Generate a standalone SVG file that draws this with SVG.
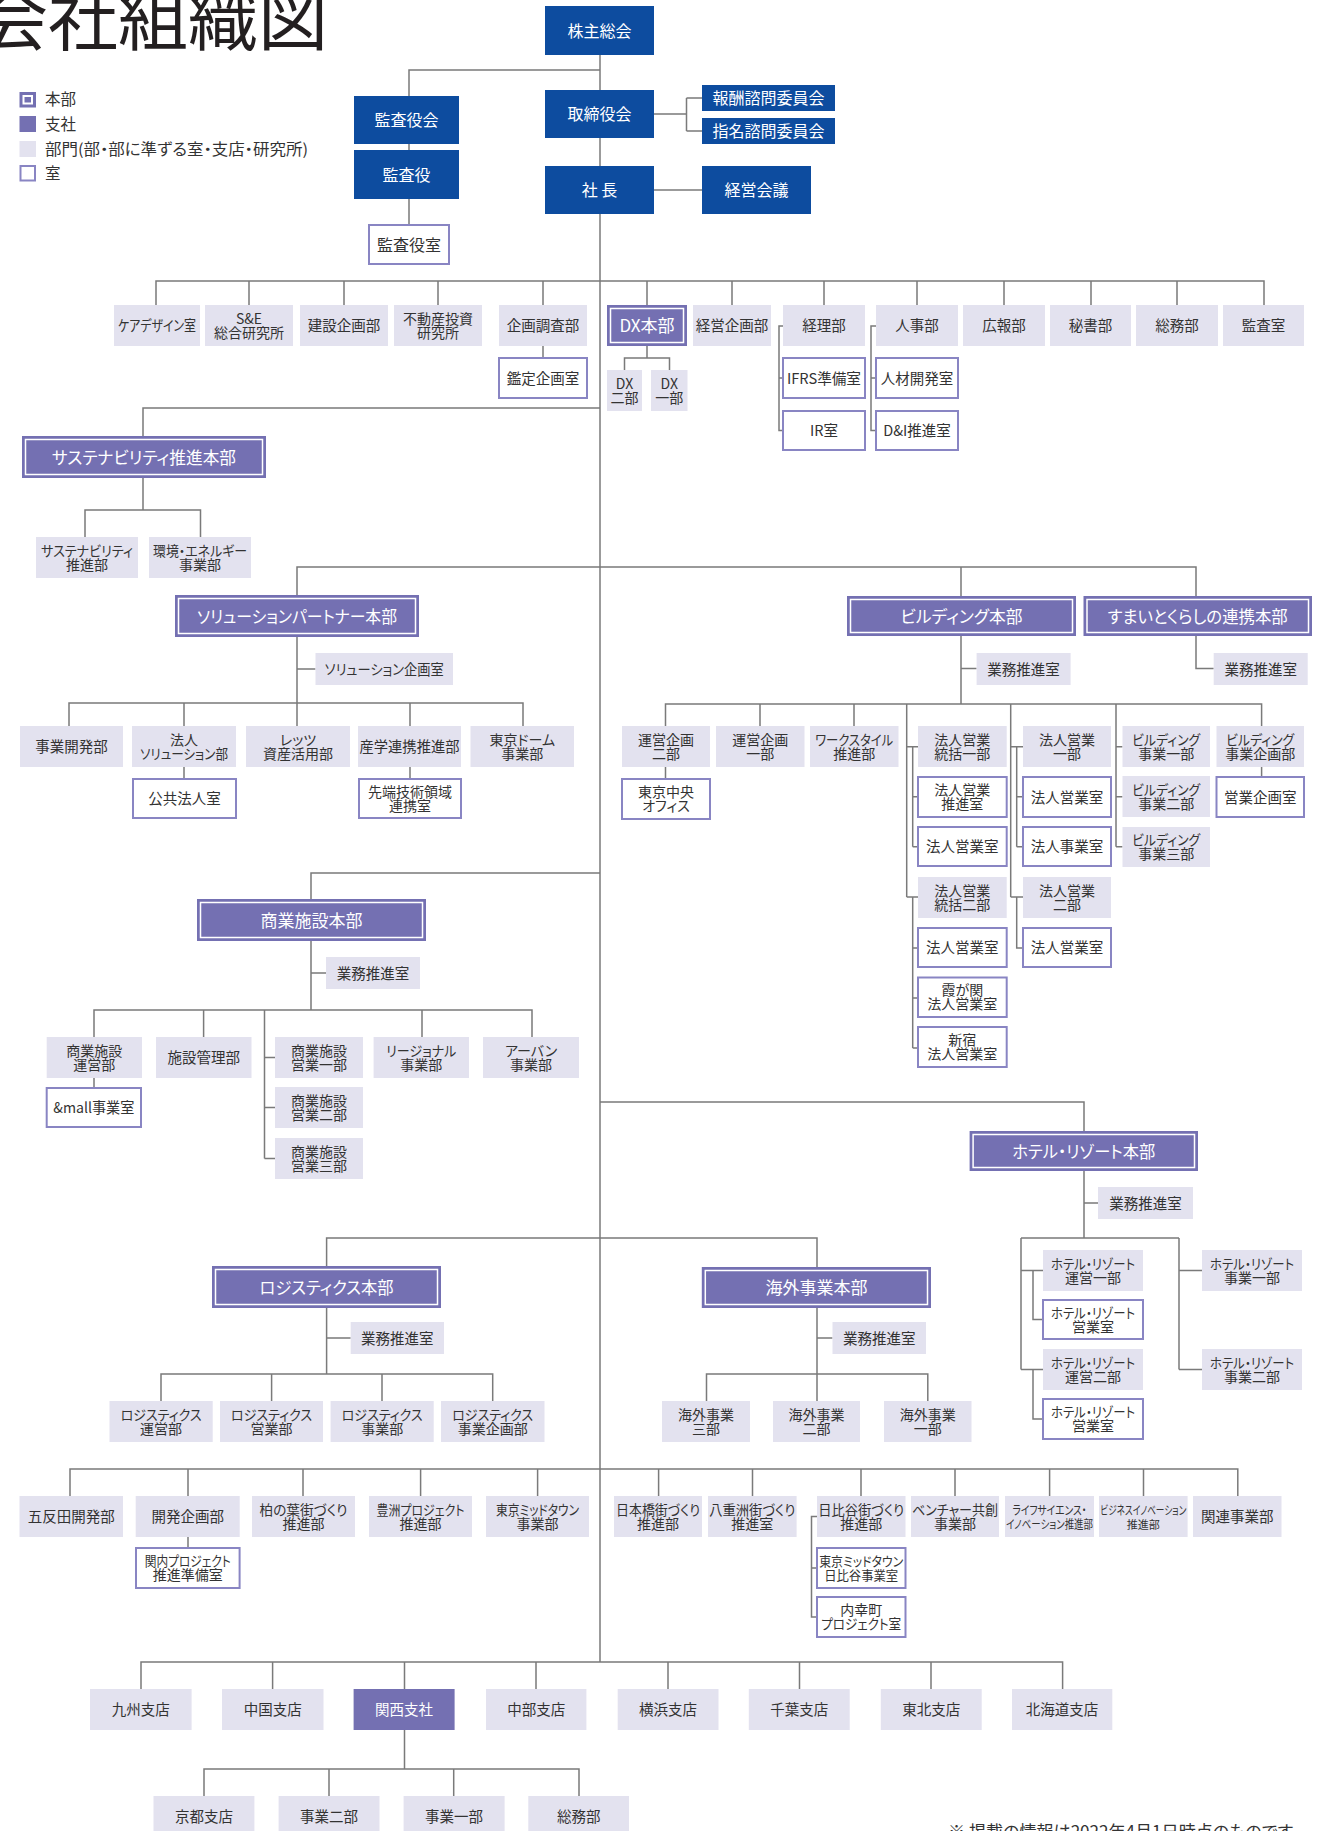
<svg xmlns="http://www.w3.org/2000/svg" width="1329" height="1831" viewBox="0 0 1329 1831">
<style>
text{font-family:"Noto Sans CJK JP","Noto Sans",sans-serif;font-feature-settings:"palt";}
.c{text-anchor:middle;fill:#333;font-size:14.5px}
.s{font-size:14px}
.w{fill:#fff}
.b16{font-size:16px}
.h{font-size:17px}
.ln{stroke:#7a7a7a;stroke-width:1.5;fill:none}
.blue{fill:#0d4c9f}
.hq{fill:#7470b2}
.hqi{fill:none;stroke:#fff;stroke-width:1.5}
.dep{fill:#e3e2ef}
.room{fill:#fff;stroke:#8985c3;stroke-width:2}
.lg{fill:#333;font-size:15.5px}
</style>
<rect width="1329" height="1831" fill="#fff"/>

<g id="title"><text x="-22" y="45" style="font-size:70px;fill:#231f20">会社組織図</text></g>

<g id="legend">
<rect x="19.5" y="92" width="16.5" height="15.5" class="hq"/><rect x="23.5" y="96" width="8.5" height="7.5" fill="none" stroke="#fff" stroke-width="2"/>
<text x="45" y="105.4" class="lg">本部</text>
<rect x="19.5" y="116" width="16.5" height="16" class="hq"/>
<text x="45" y="129.9" class="lg">支社</text>
<rect x="19.5" y="141" width="16.5" height="16" class="dep"/>
<text x="45" y="154.9" class="lg" textLength="263" lengthAdjust="spacingAndGlyphs">部門(部・部に準ずる室・支店・研究所)</text>
<rect x="20.5" y="166" width="14.5" height="14.5" class="room"/>
<text x="45" y="178.9" class="lg">室</text>
</g>

<g id="connectors" class="ln">
<path d="M600,55V1662"/>
<path d="M600,70H409V96M409,144V150M409,199V225"/>
<path d="M654,114H686.5M686.5,98V131M686.5,98H702M686.5,131H702"/>
<path d="M654,190H702"/>
<path d="M156,305V281H1264V305M249,281V305M344,281V305M438,281V305M543,281V305M647,281V305M732,281V305M824,281V305M917,281V305M1004,281V305M1091,281V305M1177,281V305"/>
<path d="M543,346V358"/>
<path d="M647,346V358M624.5,370V358H669.5V370"/>
<path d="M783,326H779V430.5H783M779,378H783"/>
<path d="M876,326H871V430.5H876M871,378H876"/>
<path d="M600,408H143V436M143,478V510M85,537V510H200.5V537"/>
<path d="M297,595V567H1196V596M961,567V596"/>
<path d="M297,637V703M297,669H315.5M69,726V703H523V726M184,703V726M297,703V726M410,703V726"/>
<path d="M184,767V779M410,767V779"/>
<path d="M961,636V704M961,668.5H976.6M1196,636V668.5H1213.7"/>
<path d="M665.5,726V704H1261.6V726M760,704V726M854,704V726"/>
<path d="M665.5,767V779M1261.6,767V777"/>
<path d="M906.7,704V897M906.7,746.7H918M906.7,897H918M912.7,746.7V846.7M912.7,796.7H918M912.7,846.7H918M912.7,897V1048M912.7,948H918M912.7,998H918M912.7,1048H918"/>
<path d="M1010.7,704V897M1010.7,746.7H1023M1010.7,897H1023M1016.7,746.7V846.7M1016.7,796.7H1023M1016.7,846.7H1023M1016.7,897V948H1023"/>
<path d="M1116,704V846.7M1116,746.7H1122.5M1116,796.7H1122.5M1116,846.7H1122.5"/>
<path d="M600,873H311V899M311,941V1010M311,973H326M94,1037V1010H532V1037M203.6,1010V1037M422,1010V1037"/>
<path d="M94,1078V1088M264.5,1010V1158.5M264.5,1057.5H275M264.5,1107.5H275M264.5,1158.5H275"/>
<path d="M600,1102H1084V1131M1084,1171V1238M1084,1203H1098M1021,1238H1179"/>
<path d="M1021,1238V1369.5M1021,1270.5H1043M1021,1369.5H1043M1033,1270.5V1319.5H1043M1033,1369.5V1419H1043"/>
<path d="M1179,1238V1369.5M1179,1270.5H1202M1179,1369.5H1202"/>
<path d="M326.6,1266V1238H817V1267"/>
<path d="M326.6,1308V1374M326.6,1338H350.7M161,1401V1374H492.7V1401M271.6,1374V1401M382,1374V1401"/>
<path d="M817,1308V1401M817,1338H832.5M706.5,1401V1374H927.8V1401"/>
<path d="M70,1496V1469H1237.8V1496M188,1469V1496M303,1469V1496M420.6,1469V1496M537.6,1469V1496M658.6,1469V1496M752.5,1469V1496M861,1469V1496M955,1469V1496M1049.6,1469V1496M1143.5,1469V1496"/>
<path d="M188,1537V1548M817,1516.5H811.5V1617H817M811.5,1568H817"/>
<path d="M141,1689V1662H1062.6V1689M272.6,1662V1689M404.5,1662V1689M536,1662V1689M668,1662V1689M799.5,1662V1689M931,1662V1689"/>
<path d="M404.5,1730V1769M204,1796V1769H579V1796M329,1769V1796M453.7,1769V1796"/>
</g>

<g id="n-kabunushi"><rect x="545" y="6" width="109" height="49" class="blue"/><text x="599.5" y="36.6" class="c w b16">株主総会</text></g>
<g id="n-kansayakukai"><rect x="354" y="96" width="105" height="48" class="blue"/><text x="406.5" y="126.1" class="c w b16">監査役会</text></g>
<g id="n-kansayaku"><rect x="354" y="150" width="105" height="49" class="blue"/><text x="406.5" y="180.6" class="c w b16">監査役</text></g>
<g id="n-kansayakushitsu"><rect x="369" y="225" width="80" height="39" class="room"/><text x="409" y="250.6" class="c b16">監査役室</text></g>
<g id="n-torishimariyakukai"><rect x="545" y="90" width="109" height="48" class="blue"/><text x="599.5" y="120.1" class="c w b16">取締役会</text></g>
<g id="n-shacho"><rect x="545" y="166" width="109" height="48" class="blue"/><text x="599.5" y="196.1" class="c w b16">社 長</text></g>
<g id="n-hoshu"><rect x="702" y="85" width="133" height="26" class="blue"/><text x="768.5" y="104.1" class="c w b16">報酬諮問委員会</text></g>
<g id="n-shimei"><rect x="702" y="118" width="133" height="26" class="blue"/><text x="768.5" y="137.1" class="c w b16">指名諮問委員会</text></g>
<g id="n-keieikaigi"><rect x="702" y="166" width="109" height="48" class="blue"/><text x="756.5" y="196.1" class="c w b16">経営会議</text></g>

<g id="n-caredesign"><rect x="114" y="305" width="86" height="41" class="dep"/><text x="157" y="331" class="c" textLength="78" lengthAdjust="spacingAndGlyphs">ケアデザイン室</text></g>
<g id="n-se"><rect x="205" y="305" width="88" height="41" class="dep"/><text x="249" y="323.8" class="c s">S&amp;E</text><text x="249" y="337.8" class="c s">総合研究所</text></g>
<g id="n-kensetsu"><rect x="300" y="305" width="88" height="41" class="dep"/><text x="344" y="331" class="c">建設企画部</text></g>
<g id="n-fudosan"><rect x="394" y="305" width="88" height="41" class="dep"/><text x="438" y="323.8" class="c s">不動産投資</text><text x="438" y="337.8" class="c s">研究所</text></g>
<g id="n-kikakuchosa"><rect x="499" y="305" width="88" height="41" class="dep"/><text x="543" y="331" class="c">企画調査部</text></g>
<g id="n-dx"><rect x="607" y="305" width="80" height="41" class="hq"/><rect x="610.5" y="308.5" width="73" height="34" class="hqi"/><text x="647" y="332" class="c w h">DX本部</text></g>
<g id="n-keieikikaku"><rect x="693" y="305" width="78" height="41" class="dep"/><text x="732" y="331" class="c">経営企画部</text></g>
<g id="n-keiri"><rect x="783" y="305" width="82" height="41" class="dep"/><text x="824" y="331" class="c">経理部</text></g>
<g id="n-jinji"><rect x="876" y="305" width="82" height="41" class="dep"/><text x="917" y="331" class="c">人事部</text></g>
<g id="n-koho"><rect x="963" y="305" width="82" height="41" class="dep"/><text x="1004" y="331" class="c">広報部</text></g>
<g id="n-hisho"><rect x="1050" y="305" width="81" height="41" class="dep"/><text x="1090.5" y="331" class="c">秘書部</text></g>
<g id="n-somu"><rect x="1136" y="305" width="82" height="41" class="dep"/><text x="1177" y="331" class="c">総務部</text></g>
<g id="n-kansashitsu"><rect x="1223" y="305" width="81" height="41" class="dep"/><text x="1263.5" y="331" class="c">監査室</text></g>

<g id="n-kantei"><rect x="499" y="358" width="88" height="40" class="room"/><text x="543" y="383.5" class="c">鑑定企画室</text></g>
<g id="n-dx2"><rect x="607" y="370" width="35" height="41" class="dep"/><text x="624.5" y="388.8" class="c s">DX</text><text x="624.5" y="402.8" class="c s">二部</text></g>
<g id="n-dx1"><rect x="651" y="370" width="36.5" height="41" class="dep"/><text x="669.3" y="388.8" class="c s">DX</text><text x="669.3" y="402.8" class="c s">一部</text></g>
<g id="n-ifrs"><rect x="783" y="358" width="82" height="40" class="room"/><text x="824" y="383.5" class="c" textLength="74" lengthAdjust="spacingAndGlyphs">IFRS準備室</text></g>
<g id="n-ir"><rect x="783" y="411" width="82" height="39" class="room"/><text x="824" y="436" class="c">IR室</text></g>
<g id="n-jinzai"><rect x="876" y="358" width="82" height="40" class="room"/><text x="917" y="383.5" class="c">人材開発室</text></g>
<g id="n-di"><rect x="876" y="411" width="82" height="39" class="room"/><text x="917" y="436" class="c">D&amp;I推進室</text></g>

<g id="n-sustainability-hq"><rect x="22" y="436" width="244" height="42" class="hq"/><rect x="25.5" y="439.5" width="237" height="35" class="hqi"/><text x="144" y="463.5" class="c w h" textLength="184" lengthAdjust="spacingAndGlyphs">サステナビリティ推進本部</text></g>
<g id="n-sustainability"><rect x="36" y="537" width="102" height="41" class="dep"/><text x="87" y="555.8" class="c s" textLength="92" lengthAdjust="spacingAndGlyphs">サステナビリティ</text><text x="87" y="569.8" class="c s">推進部</text></g>
<g id="n-energy"><rect x="149" y="537" width="102" height="41" class="dep"/><text x="200" y="555.8" class="c s" textLength="94" lengthAdjust="spacingAndGlyphs">環境・エネルギー</text><text x="200" y="569.8" class="c s">事業部</text></g>

<g id="n-solution-hq"><rect x="175" y="595" width="244" height="42" class="hq"/><rect x="178.5" y="598.5" width="237" height="35" class="hqi"/><text x="297" y="622.5" class="c w h" textLength="200" lengthAdjust="spacingAndGlyphs">ソリューションパートナー本部</text></g>
<g id="n-solution-kikaku"><rect x="315.5" y="653" width="137.5" height="32" class="dep"/><text x="384.2" y="674.5" class="c" textLength="119" lengthAdjust="spacingAndGlyphs">ソリューション企画室</text></g>
<g id="n-jigyokaihatsu"><rect x="20" y="726" width="103" height="41" class="dep"/><text x="71.5" y="752" class="c">事業開発部</text></g>
<g id="n-hojinsol"><rect x="132" y="726" width="104" height="41" class="dep"/><text x="184" y="744.8" class="c s">法人</text><text x="184" y="758.8" class="c s" textLength="88" lengthAdjust="spacingAndGlyphs">ソリューション部</text></g>
<g id="n-lets"><rect x="246" y="726" width="104" height="41" class="dep"/><text x="298" y="744.8" class="c s">レッツ</text><text x="298" y="758.8" class="c s">資産活用部</text></g>
<g id="n-sangaku"><rect x="358" y="726" width="103" height="41" class="dep"/><text x="409.5" y="752" class="c" textLength="100" lengthAdjust="spacingAndGlyphs">産学連携推進部</text></g>
<g id="n-dome"><rect x="470.5" y="726" width="103.5" height="41" class="dep"/><text x="522.2" y="744.8" class="c s">東京ドーム</text><text x="522.2" y="758.8" class="c s">事業部</text></g>
<g id="n-kokyo"><rect x="133" y="779" width="103" height="39" class="room"/><text x="184.5" y="804" class="c">公共法人室</text></g>
<g id="n-sentan"><rect x="359" y="779" width="102" height="39" class="room"/><text x="410" y="796.8" class="c s">先端技術領域</text><text x="410" y="810.8" class="c s">連携室</text></g>

<g id="n-building-hq"><rect x="847" y="596" width="229" height="40" class="hq"/><rect x="850.5" y="599.5" width="222" height="33" class="hqi"/><text x="961.5" y="622.5" class="c w h" textLength="122" lengthAdjust="spacingAndGlyphs">ビルディング本部</text></g>
<g id="n-sumai-hq"><rect x="1083.5" y="596" width="228.5" height="40" class="hq"/><rect x="1087" y="599.5" width="221.5" height="33" class="hqi"/><text x="1197.7" y="622.5" class="c w h" textLength="180" lengthAdjust="spacingAndGlyphs">すまいとくらしの連携本部</text></g>
<g id="n-building-gyomu"><rect x="976.6" y="653" width="94" height="32" class="dep"/><text x="1023.6" y="674.5" class="c">業務推進室</text></g>
<g id="n-sumai-gyomu"><rect x="1213.7" y="653" width="94" height="32" class="dep"/><text x="1260.7" y="674.5" class="c">業務推進室</text></g>
<g id="n-unei2"><rect x="622" y="726" width="88" height="41" class="dep"/><text x="666" y="744.8" class="c s">運営企画</text><text x="666" y="758.8" class="c s">二部</text></g>
<g id="n-unei1"><rect x="716" y="726" width="88.5" height="41" class="dep"/><text x="760.2" y="744.8" class="c s">運営企画</text><text x="760.2" y="758.8" class="c s">一部</text></g>
<g id="n-workstyle"><rect x="810" y="726" width="88.5" height="41" class="dep"/><text x="854.2" y="744.8" class="c s" textLength="78" lengthAdjust="spacingAndGlyphs">ワークスタイル</text><text x="854.2" y="758.8" class="c s">推進部</text></g>
<g id="n-tokatsu1"><rect x="918" y="726" width="88.7" height="41" class="dep"/><text x="962.3" y="744.8" class="c s">法人営業</text><text x="962.3" y="758.8" class="c s">統括一部</text></g>
<g id="n-hojin1"><rect x="1023" y="726" width="88" height="41" class="dep"/><text x="1067" y="744.8" class="c s">法人営業</text><text x="1067" y="758.8" class="c s">一部</text></g>
<g id="n-bldg1"><rect x="1122.5" y="726" width="87.5" height="41" class="dep"/><text x="1166.2" y="744.8" class="c s" textLength="68" lengthAdjust="spacingAndGlyphs">ビルディング</text><text x="1166.2" y="758.8" class="c s">事業一部</text></g>
<g id="n-bldgkikaku"><rect x="1216.5" y="726" width="87.5" height="41" class="dep"/><text x="1260.2" y="744.8" class="c s" textLength="68" lengthAdjust="spacingAndGlyphs">ビルディング</text><text x="1260.2" y="758.8" class="c s">事業企画部</text></g>
<g id="n-tokyochuo"><rect x="622" y="779" width="88" height="40" class="room"/><text x="666" y="797.3" class="c s">東京中央</text><text x="666" y="811.3" class="c s">オフィス</text></g>
<g id="n-eigyokikaku"><rect x="1216.5" y="777" width="87.5" height="40" class="room"/><text x="1260.2" y="802.5" class="c">営業企画室</text></g>
<g id="n-suishin"><rect x="918" y="777" width="88.7" height="40" class="room"/><text x="962.3" y="795.3" class="c s">法人営業</text><text x="962.3" y="809.3" class="c s">推進室</text></g>
<g id="n-hojineigyo-a"><rect x="918" y="827" width="88.7" height="39" class="room"/><text x="962.3" y="852" class="c">法人営業室</text></g>
<g id="n-tokatsu2"><rect x="918" y="877" width="88.7" height="41" class="dep"/><text x="962.3" y="895.8" class="c s">法人営業</text><text x="962.3" y="909.8" class="c s">統括二部</text></g>
<g id="n-hojineigyo-b"><rect x="918" y="928" width="88.7" height="39" class="room"/><text x="962.3" y="953" class="c">法人営業室</text></g>
<g id="n-kasumigaseki"><rect x="918" y="977.5" width="88.7" height="39.5" class="room"/><text x="962.3" y="995.3" class="c s">霞が関</text><text x="962.3" y="1009.3" class="c s">法人営業室</text></g>
<g id="n-shinjuku"><rect x="918" y="1027" width="88.7" height="40" class="room"/><text x="962.3" y="1045.3" class="c s">新宿</text><text x="962.3" y="1059.3" class="c s">法人営業室</text></g>
<g id="n-hojineigyo-c"><rect x="1023" y="777" width="88" height="40" class="room"/><text x="1067" y="802.5" class="c">法人営業室</text></g>
<g id="n-hojinjigyo"><rect x="1023" y="827" width="88" height="39" class="room"/><text x="1067" y="852" class="c">法人事業室</text></g>
<g id="n-hojin2"><rect x="1023" y="877" width="88" height="41" class="dep"/><text x="1067" y="895.8" class="c s">法人営業</text><text x="1067" y="909.8" class="c s">二部</text></g>
<g id="n-hojineigyo-d"><rect x="1023" y="928" width="88" height="39" class="room"/><text x="1067" y="953" class="c">法人営業室</text></g>
<g id="n-bldg2"><rect x="1122.5" y="776" width="87.5" height="41" class="dep"/><text x="1166.2" y="794.8" class="c s" textLength="68" lengthAdjust="spacingAndGlyphs">ビルディング</text><text x="1166.2" y="808.8" class="c s">事業二部</text></g>
<g id="n-bldg3"><rect x="1122.5" y="827" width="87.5" height="40" class="dep"/><text x="1166.2" y="845.3" class="c s" textLength="68" lengthAdjust="spacingAndGlyphs">ビルディング</text><text x="1166.2" y="859.3" class="c s">事業三部</text></g>

<g id="n-shogyo-hq"><rect x="197" y="899" width="229" height="42" class="hq"/><rect x="200.5" y="902.5" width="222" height="35" class="hqi"/><text x="311.5" y="926.5" class="c w h">商業施設本部</text></g>
<g id="n-shogyo-gyomu"><rect x="326" y="957" width="94" height="32" class="dep"/><text x="373" y="978.5" class="c">業務推進室</text></g>
<g id="n-shogyo-unei"><rect x="46.7" y="1037" width="95.3" height="41" class="dep"/><text x="94.3" y="1055.8" class="c s">商業施設</text><text x="94.3" y="1069.8" class="c s">運営部</text></g>
<g id="n-shisetsukanri"><rect x="156" y="1037" width="95.5" height="41" class="dep"/><text x="203.7" y="1063" class="c">施設管理部</text></g>
<g id="n-shogyo-eigyo1"><rect x="275" y="1037" width="88" height="41" class="dep"/><text x="319" y="1055.8" class="c s">商業施設</text><text x="319" y="1069.8" class="c s">営業一部</text></g>
<g id="n-regional"><rect x="373.6" y="1037" width="95.4" height="41" class="dep"/><text x="421.3" y="1055.8" class="c s" textLength="70" lengthAdjust="spacingAndGlyphs">リージョナル</text><text x="421.3" y="1069.8" class="c s">事業部</text></g>
<g id="n-urban"><rect x="483" y="1037" width="96" height="41" class="dep"/><text x="531" y="1055.8" class="c s">アーバン</text><text x="531" y="1069.8" class="c s">事業部</text></g>
<g id="n-andmall"><rect x="46.7" y="1088" width="94.3" height="39" class="room"/><text x="93.8" y="1113" class="c" textLength="81" lengthAdjust="spacingAndGlyphs">&amp;mall事業室</text></g>
<g id="n-shogyo-eigyo2"><rect x="275" y="1087" width="88" height="41" class="dep"/><text x="319" y="1105.8" class="c s">商業施設</text><text x="319" y="1119.8" class="c s">営業二部</text></g>
<g id="n-shogyo-eigyo3"><rect x="275" y="1138" width="88" height="41" class="dep"/><text x="319" y="1156.8" class="c s">商業施設</text><text x="319" y="1170.8" class="c s">営業三部</text></g>

<g id="n-hotel-hq"><rect x="969.6" y="1131" width="228.4" height="40" class="hq"/><rect x="973.1" y="1134.5" width="221.4" height="33" class="hqi"/><text x="1083.8" y="1157.5" class="c w h" textLength="143" lengthAdjust="spacingAndGlyphs">ホテル・リゾート本部</text></g>
<g id="n-hotel-gyomu"><rect x="1098" y="1187" width="95" height="32" class="dep"/><text x="1145.5" y="1208.5" class="c">業務推進室</text></g>
<g id="n-hotel-unei1"><rect x="1043" y="1250" width="100" height="41" class="dep"/><text x="1093" y="1268.8" class="c s" textLength="84" lengthAdjust="spacingAndGlyphs">ホテル・リゾート</text><text x="1093" y="1282.8" class="c s">運営一部</text></g>
<g id="n-hotel-eigyo1"><rect x="1043" y="1300" width="100" height="39" class="room"/><text x="1093" y="1317.8" class="c s" textLength="84" lengthAdjust="spacingAndGlyphs">ホテル・リゾート</text><text x="1093" y="1331.8" class="c s">営業室</text></g>
<g id="n-hotel-unei2"><rect x="1043" y="1349" width="100" height="41" class="dep"/><text x="1093" y="1367.8" class="c s" textLength="84" lengthAdjust="spacingAndGlyphs">ホテル・リゾート</text><text x="1093" y="1381.8" class="c s">運営二部</text></g>
<g id="n-hotel-eigyo2"><rect x="1043" y="1399" width="100" height="40" class="room"/><text x="1093" y="1417.3" class="c s" textLength="84" lengthAdjust="spacingAndGlyphs">ホテル・リゾート</text><text x="1093" y="1431.3" class="c s">営業室</text></g>
<g id="n-hotel-jigyo1"><rect x="1202" y="1250" width="100" height="41" class="dep"/><text x="1252" y="1268.8" class="c s" textLength="84" lengthAdjust="spacingAndGlyphs">ホテル・リゾート</text><text x="1252" y="1282.8" class="c s">事業一部</text></g>
<g id="n-hotel-jigyo2"><rect x="1202" y="1349" width="100" height="41" class="dep"/><text x="1252" y="1367.8" class="c s" textLength="84" lengthAdjust="spacingAndGlyphs">ホテル・リゾート</text><text x="1252" y="1381.8" class="c s">事業二部</text></g>

<g id="n-logi-hq"><rect x="212" y="1266" width="229" height="42" class="hq"/><rect x="215.5" y="1269.5" width="222" height="35" class="hqi"/><text x="326.5" y="1293.5" class="c w h" textLength="134" lengthAdjust="spacingAndGlyphs">ロジスティクス本部</text></g>
<g id="n-logi-gyomu"><rect x="350.7" y="1322" width="93.3" height="32" class="dep"/><text x="397.3" y="1343.5" class="c">業務推進室</text></g>
<g id="n-logi-unei"><rect x="109.5" y="1401" width="103.2" height="41" class="dep"/><text x="161.1" y="1419.8" class="c s" textLength="81" lengthAdjust="spacingAndGlyphs">ロジスティクス</text><text x="161.1" y="1433.8" class="c s">運営部</text></g>
<g id="n-logi-eigyo"><rect x="220" y="1401" width="103" height="41" class="dep"/><text x="271.5" y="1419.8" class="c s" textLength="81" lengthAdjust="spacingAndGlyphs">ロジスティクス</text><text x="271.5" y="1433.8" class="c s">営業部</text></g>
<g id="n-logi-jigyo"><rect x="330.6" y="1401" width="103.1" height="41" class="dep"/><text x="382.2" y="1419.8" class="c s" textLength="81" lengthAdjust="spacingAndGlyphs">ロジスティクス</text><text x="382.2" y="1433.8" class="c s">事業部</text></g>
<g id="n-logi-kikaku"><rect x="441" y="1401" width="103.5" height="41" class="dep"/><text x="492.7" y="1419.8" class="c s" textLength="81" lengthAdjust="spacingAndGlyphs">ロジスティクス</text><text x="492.7" y="1433.8" class="c s">事業企画部</text></g>

<g id="n-kaigai-hq"><rect x="701.8" y="1267" width="229.2" height="41" class="hq"/><rect x="705.3" y="1270.5" width="222.2" height="34" class="hqi"/><text x="816.4" y="1294" class="c w h">海外事業本部</text></g>
<g id="n-kaigai-gyomu"><rect x="832.5" y="1322" width="93.5" height="32" class="dep"/><text x="879.2" y="1343.5" class="c">業務推進室</text></g>
<g id="n-kaigai3"><rect x="662" y="1401" width="88" height="41" class="dep"/><text x="706" y="1419.8" class="c s">海外事業</text><text x="706" y="1433.8" class="c s">三部</text></g>
<g id="n-kaigai2"><rect x="773" y="1401" width="87" height="41" class="dep"/><text x="816.5" y="1419.8" class="c s">海外事業</text><text x="816.5" y="1433.8" class="c s">二部</text></g>
<g id="n-kaigai1"><rect x="884" y="1401" width="87.5" height="41" class="dep"/><text x="927.7" y="1419.8" class="c s">海外事業</text><text x="927.7" y="1433.8" class="c s">一部</text></g>

<g id="n-gotanda"><rect x="19.5" y="1496" width="103.5" height="41" class="dep"/><text x="71.2" y="1522" class="c">五反田開発部</text></g>
<g id="n-kaihatsukikaku"><rect x="135.7" y="1496" width="104" height="41" class="dep"/><text x="187.7" y="1522" class="c">開発企画部</text></g>
<g id="n-kashiwa"><rect x="252" y="1496" width="103" height="41" class="dep"/><text x="303.5" y="1514.8" class="c s" textLength="88" lengthAdjust="spacingAndGlyphs">柏の葉街づくり</text><text x="303.5" y="1528.8" class="c s">推進部</text></g>
<g id="n-toyosu"><rect x="369" y="1496" width="103" height="41" class="dep"/><text x="420.5" y="1514.8" class="c s" textLength="88" lengthAdjust="spacingAndGlyphs">豊洲プロジェクト</text><text x="420.5" y="1528.8" class="c s">推進部</text></g>
<g id="n-midtown"><rect x="486" y="1496" width="103" height="41" class="dep"/><text x="537.5" y="1514.8" class="c s" textLength="83" lengthAdjust="spacingAndGlyphs">東京ミッドタウン</text><text x="537.5" y="1528.8" class="c s">事業部</text></g>
<g id="n-nihonbashi"><rect x="614" y="1496" width="88" height="41" class="dep"/><text x="658" y="1514.8" class="c s" textLength="84" lengthAdjust="spacingAndGlyphs">日本橋街づくり</text><text x="658" y="1528.8" class="c s">推進部</text></g>
<g id="n-yaesu"><rect x="708" y="1496" width="88.6" height="41" class="dep"/><text x="752.3" y="1514.8" class="c s" textLength="86" lengthAdjust="spacingAndGlyphs">八重洲街づくり</text><text x="752.3" y="1528.8" class="c s">推進室</text></g>
<g id="n-hibiya"><rect x="817" y="1496" width="88.5" height="41" class="dep"/><text x="861.2" y="1514.8" class="c s" textLength="86" lengthAdjust="spacingAndGlyphs">日比谷街づくり</text><text x="861.2" y="1528.8" class="c s">推進部</text></g>
<g id="n-venture"><rect x="911" y="1496" width="88" height="41" class="dep"/><text x="955" y="1514.8" class="c s" textLength="86" lengthAdjust="spacingAndGlyphs">ベンチャー共創</text><text x="955" y="1528.8" class="c s">事業部</text></g>
<g id="n-lifescience"><rect x="1005" y="1496" width="89" height="41" class="dep"/><text x="1049.5" y="1514.8" class="c" style="font-size:12px" textLength="74" lengthAdjust="spacingAndGlyphs">ライフサイエンス・</text><text x="1049.5" y="1528.8" class="c" style="font-size:12px" textLength="87" lengthAdjust="spacingAndGlyphs">イノベーション推進部</text></g>
<g id="n-bizinnov"><rect x="1099" y="1496" width="88.6" height="41" class="dep"/><text x="1143.3" y="1514.8" class="c" style="font-size:12px" textLength="86" lengthAdjust="spacingAndGlyphs">ビジネスイノベーション</text><text x="1143.3" y="1528.8" class="c" style="font-size:11px">推進部</text></g>
<g id="n-kanren"><rect x="1193" y="1496" width="88.5" height="41" class="dep"/><text x="1237.2" y="1522" class="c">関連事業部</text></g>
<g id="n-kannai"><rect x="136" y="1548" width="103.6" height="40" class="room"/><text x="187.8" y="1566.3" class="c s" textLength="86" lengthAdjust="spacingAndGlyphs">関内プロジェクト</text><text x="187.8" y="1580.3" class="c s">推進準備室</text></g>
<g id="n-midtownhibiya"><rect x="817" y="1548" width="88.5" height="40" class="room"/><text x="861.2" y="1566.3" class="c" style="font-size:13px" textLength="84" lengthAdjust="spacingAndGlyphs">東京ミッドタウン</text><text x="861.2" y="1580.3" class="c" style="font-size:13px" textLength="74" lengthAdjust="spacingAndGlyphs">日比谷事業室</text></g>
<g id="n-uchisaiwai"><rect x="817" y="1597" width="88.5" height="40" class="room"/><text x="861.2" y="1615.3" class="c s">内幸町</text><text x="861.2" y="1629.3" class="c s" textLength="80" lengthAdjust="spacingAndGlyphs">プロジェクト室</text></g>

<g id="n-kyushu"><rect x="90" y="1689" width="101.6" height="41" class="dep"/><text x="140.8" y="1715" class="c">九州支店</text></g>
<g id="n-chugoku"><rect x="222" y="1689" width="101.5" height="41" class="dep"/><text x="272.7" y="1715" class="c">中国支店</text></g>
<g id="n-kansai"><rect x="353.6" y="1689" width="101" height="41" class="hq"/><text x="404.1" y="1715" class="c w">関西支社</text></g>
<g id="n-chubu"><rect x="486" y="1689" width="100.4" height="41" class="dep"/><text x="536.2" y="1715" class="c">中部支店</text></g>
<g id="n-yokohama"><rect x="617.7" y="1689" width="100.8" height="41" class="dep"/><text x="668.1" y="1715" class="c">横浜支店</text></g>
<g id="n-chiba"><rect x="748.8" y="1689" width="100.9" height="41" class="dep"/><text x="799.2" y="1715" class="c">千葉支店</text></g>
<g id="n-tohoku"><rect x="880.8" y="1689" width="100.9" height="41" class="dep"/><text x="931.2" y="1715" class="c">東北支店</text></g>
<g id="n-hokkaido"><rect x="1012" y="1689" width="100.3" height="41" class="dep"/><text x="1062.1" y="1715" class="c">北海道支店</text></g>

<g id="n-kyoto"><rect x="153.5" y="1796" width="100.9" height="41" class="dep"/><text x="204" y="1822" class="c">京都支店</text></g>
<g id="n-kansai-jigyo2"><rect x="278.6" y="1796" width="100.9" height="41" class="dep"/><text x="329" y="1822" class="c">事業二部</text></g>
<g id="n-kansai-jigyo1"><rect x="403.6" y="1796" width="101" height="41" class="dep"/><text x="454.1" y="1822" class="c">事業一部</text></g>
<g id="n-kansai-somu"><rect x="528.3" y="1796" width="100.7" height="41" class="dep"/><text x="578.7" y="1822" class="c">総務部</text></g>

<g id="footnote"><text x="948" y="1838" style="font-size:17px;fill:#333" textLength="345" lengthAdjust="spacingAndGlyphs">※ 掲載の情報は2022年4月1日時点のものです</text></g>
</svg>
